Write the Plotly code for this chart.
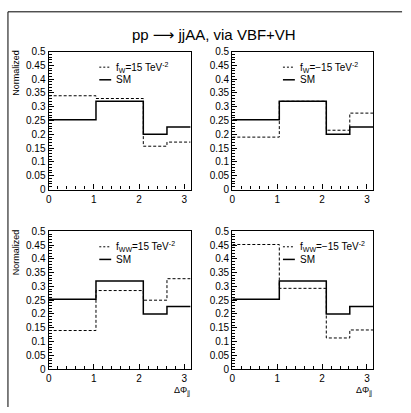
import numpy as np
import plotly.graph_objects as go

W, H = 411, 413

# bin edges in Delta Phi_jj
edges = [0.0, np.pi / 3, 2 * np.pi / 3, 5 * np.pi / 6, np.pi]
sm = [0.253, 0.320, 0.200, 0.227]
fw_p15 = [0.340, 0.330, 0.157, 0.172]
fw_m15 = [0.190, 0.320, 0.215, 0.277]
fww_p15 = [0.140, 0.285, 0.250, 0.328]
fww_m15 = [0.452, 0.293, 0.113, 0.142]

labels = ["f<sub>W</sub>=15 TeV<sup>-2</sup>", "f<sub>W</sub>=\u221215 TeV<sup>-2</sup>",
          "f<sub>WW</sub>=15 TeV<sup>-2</sup>", "f<sub>WW</sub>=\u221215 TeV<sup>-2</sup>"]
series = [fw_p15, fw_m15, fww_p15, fww_m15]

xticks = [0, 1, 2, 3]
yticks = [0, 0.05, 0.1, 0.15, 0.2, 0.25, 0.3, 0.35, 0.4, 0.45, 0.5]
ytext = ["0", "0.05", "0.1", "0.15", "0.2", "0.25", "0.3", "0.35", "0.4", "0.45", "0.5"]

# panel pixel boxes (left, right, top, bottom)
boxes = [(46, 189, 47, 189), (231, 373, 47, 189), (46, 189, 232, 374), (231, 373, 232, 374)]

FONT = "Liberation Sans, DejaVu Sans"
fig = go.Figure()
annotations = []
shapes = []

def step(vals):
    return list(edges), list(vals) + [vals[-1]]

for i, (vals, lab) in enumerate(zip(series, labels)):
    n = "" if i == 0 else str(i + 1)
    xa, ya = "x" + n, "y" + n
    l, r, t, b = boxes[i]
    xs, ys = step(vals)
    fig.add_trace(go.Scatter(x=xs, y=ys, mode="lines", line=dict(shape="hv", color="black", width=1, dash="3px,2px"),
                             xaxis=xa, yaxis=ya, showlegend=False, hoverinfo="skip"))
    xs2, ys2 = step(sm)
    fig.add_trace(go.Scatter(x=xs2, y=ys2, mode="lines", line=dict(shape="hv", color="black", width=1.5),
                             xaxis=xa, yaxis=ya, showlegend=False, hoverinfo="skip"))
    axcommon = dict(showgrid=False, zeroline=False, showline=True, linecolor="black", linewidth=1.3,
                    mirror=True, ticks="inside", tickcolor="black", ticklen=5, tickwidth=1,
                    tickfont=dict(family=FONT, size=10, color="black"))
    fig.layout["xaxis" + n] = dict(axcommon, domain=[l / W, r / W], range=[0, np.pi], anchor=ya,
                                   tickvals=xticks, ticktext=[str(v) for v in xticks],
                                   minor=dict(dtick=0.2, tick0=0, ticks="inside", ticklen=3, tickcolor="black"))
    fig.layout["yaxis" + n] = dict(axcommon, domain=[1 - b / H, 1 - t / H], range=[0, 0.5], anchor=xa,
                                   tickvals=yticks, ticktext=ytext,
                                   minor=dict(dtick=0.01, tick0=0, ticks="inside", ticklen=3, tickcolor="black"))
    # legend
    ly1 = t + 16
    ly2 = t + 29
    shapes.append(dict(type="line", xref="paper", yref="paper", x0=(l + 51) / W, x1=(l + 63) / W,
                       y0=1 - ly1 / H, y1=1 - ly1 / H, line=dict(color="black", width=1, dash="2px,2px")))
    shapes.append(dict(type="line", xref="paper", yref="paper", x0=(l + 51) / W, x1=(l + 63) / W,
                       y0=1 - ly2 / H, y1=1 - ly2 / H, line=dict(color="black", width=1.5)))
    annotations.append(dict(text=lab, x=(l + 66) / W, y=1 - ly1 / H, xref="paper", yref="paper",
                            xanchor="left", yanchor="middle", showarrow=False,
                            font=dict(family=FONT, size=10, color="black")))
    annotations.append(dict(text="SM", x=(l + 66) / W, y=1 - ly2 / H, xref="paper", yref="paper",
                            xanchor="left", yanchor="middle", showarrow=False,
                            font=dict(family=FONT, size=10, color="black")))
    if i in (0, 2):
        annotations.append(dict(text="Normalized", textangle=-90, x=13 / W, y=1 - (t - 4) / H,
                                xref="paper", yref="paper", xanchor="center", yanchor="top", showarrow=False,
                                font=dict(family=FONT, size=9, color="black")))
    if i in (2, 3):
        annotations.append(dict(text="\u0394\u03a6<sub>jj</sub>", x=(r + 1) / W, y=1 - 388 / H,
                                xref="paper", yref="paper", xanchor="right", yanchor="top", showarrow=False,
                                font=dict(family=FONT, size=9, color="black")))

annotations.append(dict(text="pp \u27f6 jjAA, via VBF+VH", x=213 / W, y=1 - 29 / H, xref="paper", yref="paper",
                        xanchor="center", yanchor="middle", showarrow=False,
                        font=dict(family=FONT, size=15, color="black")))
# outer frame (left and top)
shapes.append(dict(type="line", xref="paper", yref="paper", x0=5 / W, x1=5 / W, y0=0, y1=1 - 6 / H,
                   line=dict(color="black", width=1)))
shapes.append(dict(type="line", xref="paper", yref="paper", x0=5 / W, x1=402 / W, y0=1 - 6 / H, y1=1 - 6 / H,
                   line=dict(color="black", width=1)))

fig.update_layout(width=W, height=H, margin=dict(l=0, r=0, t=0, b=0), paper_bgcolor="white",
                  plot_bgcolor="white", annotations=annotations, shapes=shapes, showlegend=False)
fig.write_html("out.html")
